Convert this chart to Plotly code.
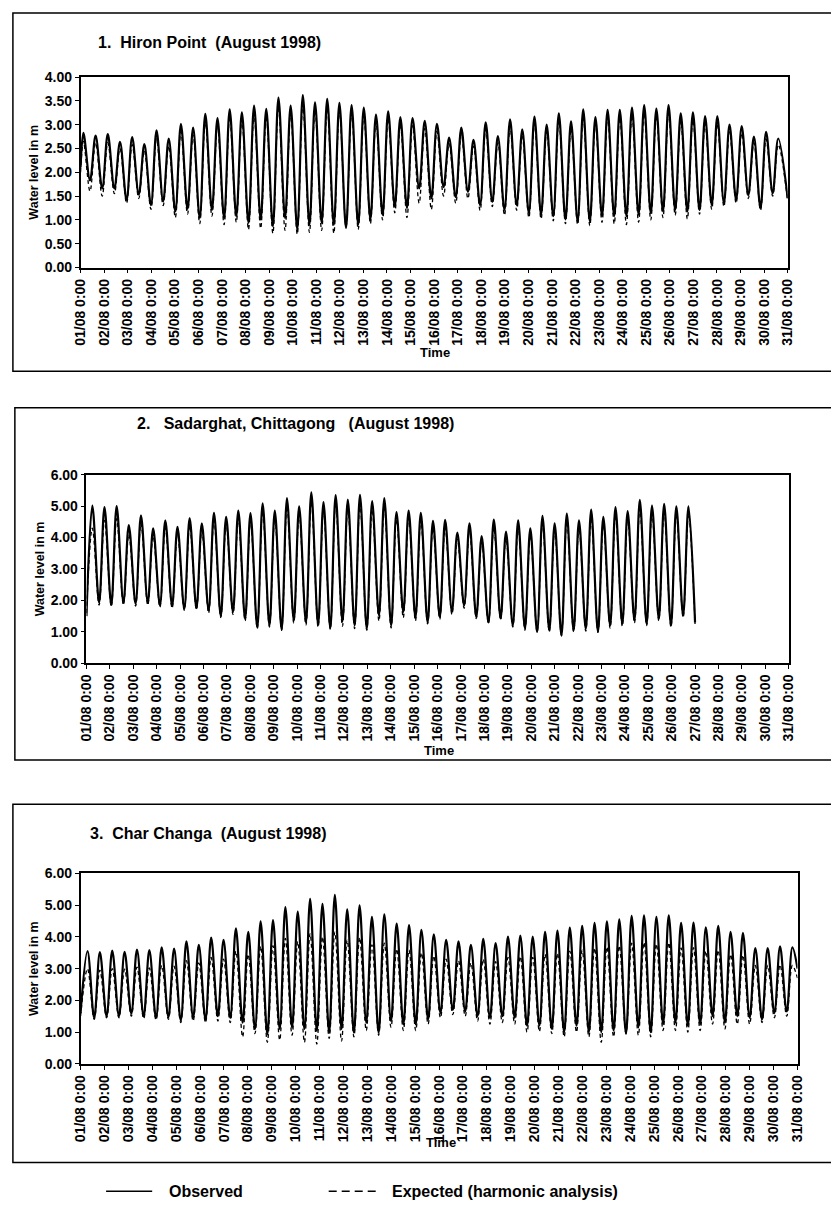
import plotly.graph_objects as go
import pandas as pd

W, H = 831, 1209
BASE = pd.Timestamp("1998-08-01 00:00")

# ---------------- data (levels in m) ----------------
# Tick labels
DAY_TICKS = pd.date_range("1998-08-01", "1998-08-31", freq="D")
DAY_LABELS = [d.strftime("%d/%m") + " 0:00" for d in DAY_TICKS]

# 1. Hiron Point : successive high waters / low waters
P1_OBS_HIGH = [2.83, 2.77, 2.80, 2.64, 2.74, 2.59, 2.88, 2.71, 3.02, 2.94, 3.23, 3.14, 3.32, 3.26,
               3.40, 3.33, 3.57, 3.40, 3.62, 3.47, 3.54, 3.46, 3.41, 3.36, 3.21, 3.28, 3.16, 3.14,
               3.08, 3.02, 2.73, 2.94, 2.68, 3.05, 2.76, 3.11, 2.90, 3.17, 3.00, 3.24, 3.07, 3.32,
               3.16, 3.31, 3.31, 3.36, 3.41, 3.34, 3.41, 3.24, 3.26, 3.18, 3.18, 3.00, 2.97, 2.75,
               2.85, 2.71]
P1_OBS_LOW = [1.83, 1.66, 1.66, 1.42, 1.53, 1.31, 1.39, 1.18, 1.23, 1.04, 1.21, 1.04, 1.08, 0.94,
              1.01, 0.87, 1.04, 0.80, 0.90, 0.94, 0.90, 0.83, 0.90, 1.01, 1.11, 1.28, 1.25, 1.66,
              1.45, 1.69, 1.48, 1.59, 1.31, 1.38, 1.21, 1.31, 1.14, 1.11, 1.08, 1.01, 0.97, 0.97,
              1.08, 1.08, 1.08, 1.11, 1.14, 1.18, 1.21, 1.18, 1.21, 1.31, 1.35, 1.42, 1.52, 1.25,
              1.56]
P1_EXP_HIGH = [2.65, 2.62, 2.62, 2.50, 2.58, 2.45, 2.70, 2.55, 2.85, 2.78, 3.05, 2.98, 3.15, 3.10,
               3.22, 3.18, 3.38, 3.25, 3.42, 3.30, 3.36, 3.30, 3.25, 3.20, 3.05, 3.12, 3.00, 2.98,
               2.92, 2.86, 2.60, 2.80, 2.55, 2.90, 2.62, 2.95, 2.76, 3.02, 2.86, 3.08, 2.92, 3.15,
               3.02, 3.16, 3.15, 3.20, 3.24, 3.18, 3.24, 3.08, 3.10, 3.02, 3.02, 2.85, 2.82, 2.62,
               2.70, 2.58]
P1_EXP_LOW = [1.60, 1.50, 1.55, 1.35, 1.45, 1.22, 1.30, 1.05, 1.12, 0.92, 1.08, 0.90, 0.95, 0.80,
              0.82, 0.72, 0.78, 0.70, 0.74, 0.78, 0.72, 0.85, 0.80, 0.92, 1.00, 1.15, 1.05, 1.35,
              1.22, 1.50, 1.35, 1.45, 1.20, 1.28, 1.10, 1.20, 1.05, 1.02, 0.98, 0.92, 0.90, 0.88,
              0.95, 0.92, 0.90, 0.95, 1.00, 1.05, 1.10, 1.02, 1.12, 1.22, 1.28, 1.35, 1.45, 1.20,
              1.50]
P1_START = (2.10, 2.00)   # observed, expected level at 01/08 0:00
P1_END = (1.45, 1.40)     # level at end of record
P1_END_DAY = 30.0
P1_TIMING = (0.12, 0.5172, 0.28)   # first high (days), tidal period (days), low after high (days)

# 2. Sadarghat, Chittagong
P2_OBS_HIGH = [5.02, 4.97, 5.00, 4.40, 4.71, 4.29, 4.55, 4.34, 4.62, 4.45, 4.79, 4.66, 4.86, 4.78,
               5.09, 4.86, 5.26, 4.99, 5.44, 5.13, 5.35, 5.21, 5.36, 5.16, 5.26, 4.81, 4.86, 4.79,
               4.53, 4.56, 4.16, 4.45, 4.05, 4.57, 4.19, 4.55, 4.29, 4.69, 4.45, 4.76, 4.55, 4.89,
               4.66, 4.97, 4.84, 5.20, 5.02, 5.07, 4.99, 4.99]
P2_OBS_LOW = [1.93, 1.86, 1.93, 1.89, 1.93, 1.84, 1.82, 1.73, 1.75, 1.68, 1.50, 1.63, 1.41, 1.14,
              1.20, 1.07, 1.36, 1.30, 1.22, 1.11, 1.33, 1.20, 1.09, 1.52, 1.20, 1.63, 1.45,
              1.30, 1.47, 1.63, 1.84, 1.47, 1.30, 1.43, 1.20, 1.11, 1.00, 1.04, 0.88, 1.04,
              1.09, 1.00, 1.20, 1.25, 1.36, 1.25, 1.41, 1.20, 1.52]
P2_EXP_HIGH = [4.30, 4.55, 4.60, 4.10, 4.45, 4.05, 4.30, 4.12, 4.38, 4.22, 4.55, 4.42, 4.62, 4.55,
               4.85, 4.62, 5.00, 4.75, 5.15, 4.88, 5.08, 4.95, 5.08, 4.90, 4.98, 4.58, 4.62, 4.55,
               4.30, 4.32, 3.95, 4.22, 3.85, 4.32, 3.98, 4.30, 4.08, 4.45, 4.22, 4.52, 4.32, 4.65,
               4.42, 4.72, 4.60, 4.92, 4.78, 4.82, 4.75, 4.75]
P2_EXP_LOW = [1.85, 1.80, 1.85, 1.82, 1.85, 1.78, 1.75, 1.68, 1.70, 1.60, 1.45, 1.55, 1.35, 1.10,
              1.15, 1.05, 1.28, 1.22, 1.15, 1.08, 1.18, 1.10, 1.05, 1.35, 1.12, 1.45, 1.35,
              1.25, 1.40, 1.55, 1.75, 1.42, 1.25, 1.38, 1.15, 1.05, 0.98, 1.00, 0.88, 1.00,
              1.02, 0.98, 1.12, 1.18, 1.28, 1.20, 1.35, 1.15, 1.45]
P2_START = (1.50, 1.60)
P2_END = (1.30, 1.25)
P2_END_DAY = 26.0
P2_TIMING = (0.25, 0.5198, 0.29)

# 3. Char Changa
P3_OBS_HIGH = [3.55, 3.52, 3.57, 3.53, 3.60, 3.58, 3.67, 3.63, 3.86, 3.75, 3.98, 3.91, 4.27, 4.16,
               4.49, 4.53, 4.94, 4.80, 5.20, 5.04, 5.32, 4.87, 4.99, 4.63, 4.71, 4.42, 4.37, 4.22,
               4.08, 3.91, 3.86, 3.75, 3.94, 3.80, 4.01, 4.04, 4.01, 4.16, 4.20, 4.29, 4.35, 4.44,
               4.49, 4.55, 4.66, 4.68, 4.63, 4.68, 4.44, 4.45, 4.30, 4.35, 4.16, 4.13, 3.65, 3.65,
               3.70, 3.67]
P3_OBS_LOW = [1.45, 1.50, 1.50, 1.58, 1.50, 1.45, 1.47, 1.37, 1.45, 1.40, 1.50, 1.45, 1.30, 1.09,
              0.93, 1.09, 1.14, 1.09, 1.04, 0.98, 1.09, 0.98, 1.30, 0.98, 1.35, 1.24, 1.24,
              1.40, 1.60, 1.70, 1.65, 1.50, 1.45, 1.50, 1.45, 1.20, 1.20, 1.10, 1.00, 1.20, 1.00,
              1.00, 1.05, 0.95, 1.15, 1.00, 1.25, 1.30, 1.20, 1.25, 1.50, 1.30, 1.50, 1.45, 1.40,
              1.60, 1.65]
P3_EXP_HIGH = [3.00, 2.95, 3.00, 2.98, 3.05, 3.02, 3.10, 3.08, 3.25, 3.18, 3.35, 3.30, 3.55, 3.45,
               3.70, 3.72, 3.95, 3.85, 4.10, 4.00, 4.15, 3.90, 3.98, 3.75, 3.80, 3.62, 3.58, 3.50,
               3.40, 3.30, 3.25, 3.18, 3.30, 3.22, 3.35, 3.38, 3.35, 3.45, 3.48, 3.55, 3.58, 3.65,
               3.68, 3.72, 3.80, 3.82, 3.78, 3.82, 3.65, 3.66, 3.55, 3.58, 3.45, 3.42, 3.10, 3.10,
               3.12, 3.10]
P3_EXP_LOW = [1.40, 1.45, 1.45, 1.50, 1.42, 1.38, 1.40, 1.30, 1.35, 1.30, 1.35, 1.30, 0.85, 0.95,
              0.68, 0.75, 0.90, 0.68, 0.62, 0.80, 0.72, 0.85, 1.05, 0.90, 1.15, 1.05, 1.05,
              1.25, 1.45, 1.55, 1.50, 1.35, 1.25, 1.30, 1.25, 1.00, 1.02, 0.95, 0.85, 1.00, 0.85,
              0.68, 0.85, 0.95, 0.90, 0.85, 1.05, 1.05, 1.00, 1.05, 1.25, 1.10, 1.25, 1.25, 1.30,
              1.45, 1.50]
P3_START = (1.60, 1.50)
P3_END = (3.00, 2.70)
P3_END_DAY = 30.0
P3_TIMING = (0.29, 0.5175, 0.28)

TITLES = ["1.\u00a0\u00a0Hiron Point\u00a0\u00a0(August 1998)",
          "2.\u00a0\u00a0\u00a0Sadarghat, Chittagong\u00a0\u00a0\u00a0(August 1998)",
          "3.\u00a0\u00a0Char Changa\u00a0\u00a0(August 1998)"]
Y_MAX = [4.0, 6.0, 6.0]
Y_DTICK = [0.5, 1.0, 1.0]
# ---------------------------------------------------------------------------


def fx(p):
    return p / W


def fy(p):
    return 1 - p / H


def tide_series(start, highs, lows, end, end_day, timing):
    first, period, low_off = timing
    days, vals = [0.0], [start]
    for k, h in enumerate(highs):
        t = first + k * period
        days.append(t)
        vals.append(h)
        if k < len(lows):
            days.append(t + low_off)
            vals.append(lows[k])
    days.append(end_day)
    vals.append(end)
    return BASE + pd.to_timedelta(days, unit="D"), vals


stations = [
    (P1_OBS_HIGH, P1_OBS_LOW, P1_EXP_HIGH, P1_EXP_LOW, P1_START, P1_END, P1_END_DAY, P1_TIMING),
    (P2_OBS_HIGH, P2_OBS_LOW, P2_EXP_HIGH, P2_EXP_LOW, P2_START, P2_END, P2_END_DAY, P2_TIMING),
    (P3_OBS_HIGH, P3_OBS_LOW, P3_EXP_HIGH, P3_EXP_LOW, P3_START, P3_END, P3_END_DAY, P3_TIMING),
]

# pixel geometry of each plot area: left, right, top, bottom
PLOT_BOX = [(74, 795, 70, 263), (80, 796, 473, 664), (74, 805, 877, 1070)]
FRAME = [(5, 5, 368), (7, 405, 762), (5, 807, 1170)]        # left, top, bottom of outer frames
TITLE_POS = [(90, 35), (130, 421), (82, 837)]
TIME_POS = [(435, 349), (439, 752), (441, 1150)]

FONT = "Liberation Sans, Arial, sans-serif"

fig = go.Figure()
layout = dict(width=W, height=H, margin=dict(l=0, r=0, t=0, b=0),
              paper_bgcolor="white", plot_bgcolor="white", showlegend=False,
              font=dict(family=FONT, color="black"))
shapes, annotations = [], []

for i, (oh, ol, eh, el, st, en, end_day, timing) in enumerate(stations):
    n = "" if i == 0 else str(i + 1)
    xo, yo = tide_series(st[0], oh, ol, en[0], end_day, timing)
    xe, ye = tide_series(st[1], eh, el, en[1], end_day, timing)
    fig.add_trace(go.Scatter(x=xe, y=ye, mode="lines", name="Expected (harmonic analysis)",
                             line=dict(color="black", width=1.3, dash="4px,3px", shape="spline"),
                             xaxis="x" + n, yaxis="y" + n))
    fig.add_trace(go.Scatter(x=xo, y=yo, mode="lines", name="Observed",
                             line=dict(color="black", width=2.2, shape="spline"),
                             xaxis="x" + n, yaxis="y" + n))
    l, r, t, b = PLOT_BOX[i]
    layout["xaxis" + n] = dict(
        domain=[fx(l), fx(r)], anchor="y" + n,
        range=[BASE, BASE + pd.Timedelta(days=30)],
        tickmode="array", tickvals=DAY_TICKS, ticktext=DAY_LABELS, tickangle=-90,
        ticks="outside", ticklen=4, tickwidth=1, tickcolor="black",
        showline=True, linecolor="black", linewidth=1.5, mirror=True,
        showgrid=False, zeroline=False,
        tickfont=dict(family=FONT, size=14, color="black", weight="bold"))
    layout["yaxis" + n] = dict(
        domain=[fy(b), fy(t)], anchor="x" + n,
        range=[0, Y_MAX[i]], dtick=Y_DTICK[i], tick0=0, tickformat=".2f",
        ticks="outside", ticklen=4, tickwidth=1, tickcolor="black",
        showline=True, linecolor="black", linewidth=1.5, mirror=True,
        showgrid=False, zeroline=False,
        tickfont=dict(family=FONT, size=14, color="black", weight="bold"),
        title=dict(text="Water level in m", standoff=3,
                   font=dict(family=FONT, size=12.5, color="black", weight="bold")))
    fl, ft, fb = FRAME[i]
    shapes.append(dict(type="rect", xref="paper", yref="paper",
                       x0=fx(fl), x1=1.02, y0=fy(fb), y1=fy(ft),
                       line=dict(color="black", width=1.5)))
    annotations.append(dict(text="<b>" + TITLES[i] + "</b>", xref="paper", yref="paper",
                            x=fx(TITLE_POS[i][0]), y=fy(TITLE_POS[i][1]),
                            xanchor="left", yanchor="middle", showarrow=False,
                            font=dict(family=FONT, size=16, color="black")))
    annotations.append(dict(text="<b>Time</b>", xref="paper", yref="paper",
                            x=fx(TIME_POS[i][0]), y=fy(TIME_POS[i][1]),
                            xanchor="center", yanchor="middle", showarrow=False,
                            font=dict(family=FONT, size=13, color="black")))

# legend drawn at the bottom
LEG_Y = 1199
shapes.append(dict(type="line", xref="paper", yref="paper", x0=fx(100), x1=fx(147),
                   y0=fy(LEG_Y), y1=fy(LEG_Y), line=dict(color="black", width=1.5)))
shapes.append(dict(type="line", xref="paper", yref="paper", x0=fx(327), x1=fx(376),
                   y0=fy(LEG_Y), y1=fy(LEG_Y), line=dict(color="black", width=1.5, dash="8px,5px")))
annotations.append(dict(text="<b>Observed</b>", xref="paper", yref="paper", x=fx(162), y=fy(LEG_Y),
                        xanchor="left", yanchor="middle", showarrow=False,
                        font=dict(family=FONT, size=16, color="black")))
annotations.append(dict(text="<b>Expected (harmonic analysis)</b>", xref="paper", yref="paper",
                        x=fx(390), y=fy(LEG_Y), xanchor="left", yanchor="middle", showarrow=False,
                        font=dict(family=FONT, size=16, color="black")))

layout["shapes"] = shapes
layout["annotations"] = annotations
fig.update_layout(**layout)
fig.write_html("out.html", config={"displayModeBar": False},
               post_script="document.body.style.margin='0';document.body.style.overflow='hidden';")
